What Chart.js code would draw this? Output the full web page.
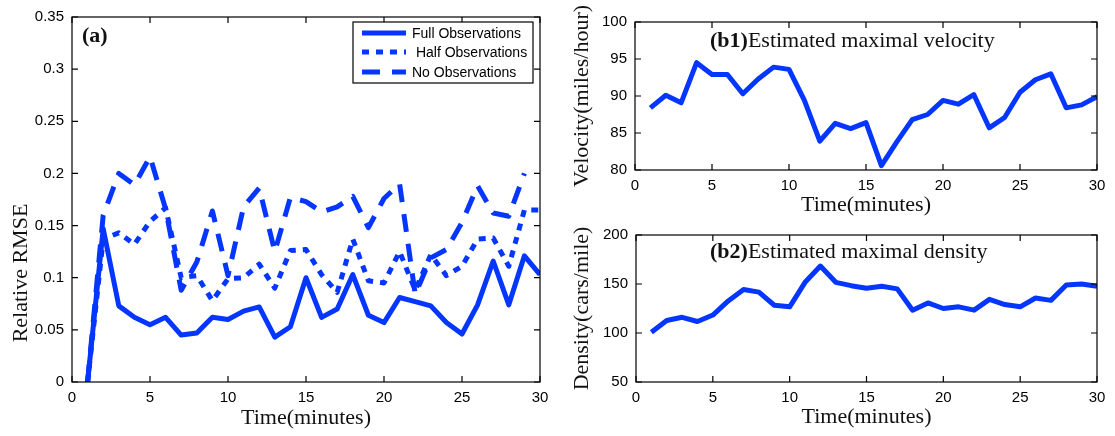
<!DOCTYPE html>
<html>
<head>
<meta charset="utf-8">
<script src="https://cdn.jsdelivr.net/npm/chart.js@4.4.1/dist/chart.umd.min.js"></script>
<style>
  html, body { margin: 0; padding: 0; background: #fff; }
  #wrap { position: relative; width: 1115px; height: 436px; overflow: hidden; }
  canvas { position: absolute; }
  #chartA { left: 0; top: 0; }
  #chartB1 { left: 560px; top: 0; }
  #chartB2 { left: 560px; top: 218px; }
</style>
</head>
<body>
<div id="wrap">
  <canvas id="chartA" width="560" height="436"></canvas>
  <canvas id="chartB1" width="555" height="218"></canvas>
  <canvas id="chartB2" width="555" height="218"></canvas>
</div>
<script>
// time axis (minutes)
const minutes = [1, 2, 3, 4, 5, 6, 7, 8, 9, 10, 11, 12, 13, 14, 15, 16, 17, 18, 19, 20, 21, 22, 23, 24, 25, 26, 27, 28, 29, 30];

// (a) relative RMSE
const fullObs = [0, 0.147, 0.073, 0.062, 0.055, 0.062, 0.045, 0.047, 0.062, 0.060,
                 0.068, 0.072, 0.043, 0.053, 0.100, 0.062, 0.070, 0.103, 0.064, 0.057,
                 0.081, 0.077, 0.073, 0.057, 0.046, 0.074, 0.116, 0.074, 0.121, 0.103];
const halfObs = [0, 0.137, 0.143, 0.132, 0.154, 0.167, 0.100, 0.102, 0.078, 0.099,
                 0.100, 0.113, 0.090, 0.126, 0.127, 0.103, 0.086, 0.137, 0.097, 0.095,
                 0.125, 0.088, 0.122, 0.102, 0.111, 0.137, 0.138, 0.111, 0.165, 0.165];
const noObs   = [0, 0.160, 0.200, 0.189, 0.216, 0.166, 0.088, 0.115, 0.164, 0.102,
                 0.168, 0.186, 0.125, 0.177, 0.173, 0.163, 0.168, 0.178, 0.148, 0.176,
                 0.190, 0.084, 0.119, 0.127, 0.153, 0.188, 0.162, 0.159, 0.200, null];

// (b1) estimated maximal velocity, (b2) estimated maximal density
const velocity = [88.4, 90.1, 89.1, 94.5, 92.9, 92.9, 90.3, 92.3, 93.9, 93.6,
                  89.4, 83.9, 86.3, 85.6, 86.4, 80.6, 83.8, 86.8, 87.5, 89.4,
                  88.9, 90.2, 85.7, 87.1, 90.5, 92.2, 93.0, 88.4, 88.8, 89.9];
const density = [100.7, 112.7, 116, 111.7, 118.3, 132.7, 144.3, 141.7, 128.3, 126.7,
                 151.7, 168.3, 151.7, 148.3, 145.7, 147.7, 145, 123.3, 130.7, 125,
                 126.7, 123.3, 134.3, 129, 126.7, 135.7, 133.3, 149, 150, 147.7];

const xTicks = ['0', '5', '10', '15', '20', '25', '30'];
const yTicksA = ['0', '0.05', '0.1', '0.15', '0.2', '0.25', '0.3', '0.35'];
const yTicksB1 = ['80', '85', '90', '95', '100'];
const yTicksB2 = ['50', '100', '150', '200'];

const BLUE = '#0436ff';
const SANS = "'Liberation Sans', Arial, sans-serif";
const SERIF = "'Liberation Serif', 'Times New Roman', serif";

const toPoints = (vals) => minutes.map((t, i) => ({ x: t, y: vals[i] }));

// MATLAB style box with inward ticks on all four sides
const boxPlugin = {
    id: 'box',
    afterDraw(chart) {
        const { ctx, chartArea: a, scales: { x, y } } = chart;
        const len = 6;
        ctx.save();
        ctx.strokeStyle = '#000';
        ctx.lineWidth = 1.2;
        ctx.strokeRect(a.left, a.top, a.right - a.left, a.bottom - a.top);
        ctx.beginPath();
        x.ticks.forEach(t => {
            const px = x.getPixelForValue(t.value);
            ctx.moveTo(px, a.bottom); ctx.lineTo(px, a.bottom - len);
            ctx.moveTo(px, a.top); ctx.lineTo(px, a.top + len);
        });
        y.ticks.forEach(t => {
            const py = y.getPixelForValue(t.value);
            ctx.moveTo(a.left, py); ctx.lineTo(a.left + len, py);
            ctx.moveTo(a.right, py); ctx.lineTo(a.right - len, py);
        });
        ctx.stroke();
        ctx.restore();
    }
};

// panel labels like "(a)" or "(b1)Estimated ..."
const labelPlugin = {
    id: 'panelLabel',
    afterDraw(chart, args, opts) {
        if (!opts.bold) return;
        const { ctx } = chart;
        ctx.save();
        ctx.fillStyle = '#111';
        ctx.textBaseline = 'middle';
        ctx.font = `bold 22px ${SERIF}`;
        ctx.fillText(opts.bold, opts.x, opts.y);
        const w = ctx.measureText(opts.bold).width;
        if (opts.text) {
            ctx.font = `22px ${SERIF}`;
            ctx.fillText(opts.text, opts.x + w, opts.y);
        }
        ctx.restore();
    }
};

// legend and off-centre y title of panel (a)
const legendPlugin = {
    id: 'legendA',
    afterDraw(chart, args, opts) {
        if (!opts.show) return;
        const { ctx } = chart;
        ctx.save();
        ctx.fillStyle = '#fff';
        ctx.fillRect(353, 22, 180, 61);
        ctx.strokeStyle = '#000';
        ctx.lineWidth = 1.2;
        ctx.strokeRect(353, 22, 180, 61);
        const rows = [33, 52, 72];
        chart.data.datasets.forEach((ds, i) => {
            ctx.strokeStyle = ds.borderColor;
            ctx.lineWidth = ds.borderWidth;
            ctx.setLineDash(ds.borderDash || []);
            ctx.beginPath();
            ctx.moveTo(362, rows[i]);
            ctx.lineTo(406, rows[i]);
            ctx.stroke();
            ctx.setLineDash([]);
            ctx.fillStyle = '#000';
            ctx.font = `14px ${SANS}`;
            ctx.textBaseline = 'middle';
            ctx.fillText(ds.label, 412, rows[i] + 1);
        });
        ctx.translate(21, 273);
        ctx.rotate(-Math.PI / 2);
        ctx.font = `22px ${SERIF}`;
        ctx.fillStyle = '#111';
        ctx.textAlign = 'center';
        ctx.textBaseline = 'middle';
        ctx.fillText('Relative RMSE', 0, 0);
        ctx.restore();
    }
};

Chart.register(boxPlugin, labelPlugin, legendPlugin);

const lineDs = (label, vals, dash) => ({
    label,
    data: toPoints(vals),
    borderColor: BLUE,
    backgroundColor: BLUE,
    borderWidth: 5,
    borderDash: dash,
    borderCapStyle: 'butt',
    borderJoinStyle: 'round',
    pointRadius: 0,
    tension: 0,
    spanGaps: false
});

const makeOptions = ({ yMin, yMax, yStep, yLabels, yWidth, xHeight, padTop, padRight, xTitlePad, yTitle, label, legend }) => ({
    responsive: false,
    animation: false,
    layout: { padding: { top: padTop, right: padRight, left: 0, bottom: 0 } },
    plugins: {
        legend: { display: false },
        tooltip: { enabled: false },
        panelLabel: label || {},
        legendA: { show: !!legend }
    },
    scales: {
        x: {
            type: 'linear', min: 0, max: 30,
            grid: { display: false, drawTicks: false },
            border: { display: false },
            ticks: {
                stepSize: 5, padding: 7, color: '#000',
                font: { family: SANS, size: 15 },
                callback: (v, i) => xTicks[i]
            },
            title: {
                display: true, text: 'Time(minutes)', color: '#111',
                font: { family: SERIF, size: 22 },
                padding: { top: 0, bottom: xTitlePad }
            },
            afterFit: (s) => { s.height = xHeight; }
        },
        y: {
            type: 'linear', min: yMin, max: yMax,
            grid: { display: false, drawTicks: false },
            border: { display: false },
            ticks: {
                stepSize: yStep, padding: 8, color: '#000',
                font: { family: SANS, size: 15 },
                callback: (v, i) => yLabels[i]
            },
            title: {
                display: !!yTitle, text: yTitle || '', color: '#111',
                font: { family: SERIF, size: 22 },
                padding: { top: 9, bottom: 0 }
            },
            afterFit: (s) => { s.width = yWidth; }
        }
    }
});

new Chart(document.getElementById('chartA'), {
    type: 'line',
    data: {
        datasets: [
            lineDs('Full Observations', fullObs, []),
            lineDs(' Half Observations', halfObs, [7, 7]),
            lineDs('No Observations', noObs, [18, 12])
        ]
    },
    options: makeOptions({
        yMin: 0, yMax: 0.35, yStep: 0.05, yLabels: yTicksA,
        yWidth: 72, xHeight: 54, padTop: 14, padRight: 20, xTitlePad: 5,
        label: { bold: '(a)', x: 82, y: 36 }, legend: true
    })
});

new Chart(document.getElementById('chartB1'), {
    type: 'line',
    data: { datasets: [lineDs('velocity', velocity, [])] },
    options: makeOptions({
        yMin: 80, yMax: 100, yStep: 5, yLabels: yTicksB1,
        yWidth: 75, xHeight: 48, padTop: 22, padRight: 18, xTitlePad: 0,
        yTitle: 'Velocity(miles/hour)',
        label: { bold: '(b1)', text: 'Estimated maximal velocity', x: 150, y: 41 }
    })
});

new Chart(document.getElementById('chartB2'), {
    type: 'line',
    data: { datasets: [lineDs('density', density, [])] },
    options: makeOptions({
        yMin: 50, yMax: 200, yStep: 50, yLabels: yTicksB2,
        yWidth: 76, xHeight: 54, padTop: 15, padRight: 18, xTitlePad: 6,
        yTitle: 'Density(cars/mile)',
        label: { bold: '(b2)', text: 'Estimated maximal density', x: 150, y: 34 }
    })
});
</script>
</body>
</html>
